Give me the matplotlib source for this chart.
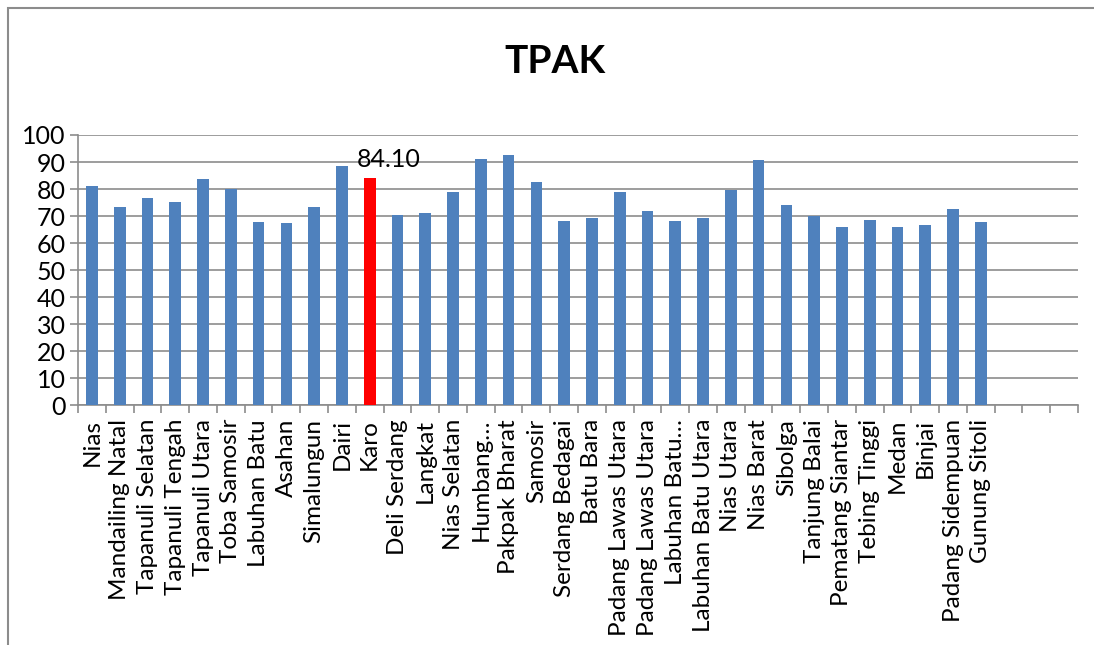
import matplotlib.pyplot as plt
import numpy as np
from matplotlib.patches import Rectangle

plt.rcParams['font.family'] = ['Lato', 'DejaVu Sans']

regions = [
    "Nias", "Mandailing Natal", "Tapanuli Selatan", "Tapanuli Tengah",
    "Tapanuli Utara", "Toba Samosir", "Labuhan Batu", "Asahan",
    "Simalungun", "Dairi", "Karo", "Deli Serdang", "Langkat",
    "Nias Selatan", "Humbang…", "Pakpak Bharat", "Samosir",
    "Serdang Bedagai", "Batu Bara", "Padang Lawas Utara",
    "Padang Lawas Utara", "Labuhan Batu…", "Labuhan Batu Utara",
    "Nias Utara", "Nias Barat", "Sibolga", "Tanjung Balai",
    "Pematang Siantar", "Tebing Tinggi", "Medan", "Binjai",
    "Padang Sidempuan", "Gunung Sitoli",
]
tpak = [
    81.2, 73.3, 76.5, 75.2, 83.6, 79.9, 67.7, 67.4, 73.2, 88.4, 84.10,
    70.2, 71.2, 79.0, 91.0, 92.6, 82.7, 68.1, 69.3, 78.8, 71.7, 68.3,
    69.4, 79.5, 90.6, 74.1, 70.0, 66.0, 68.5, 65.8, 66.7, 72.5, 67.9,
]
highlight = "Karo"
n_slots = 36  # chart range includes three empty categories at the end


def main():
    fig = plt.figure(figsize=(10.94, 6.45), dpi=100)
    ax = fig.add_axes([0.0713, 0.372, 0.9141, 0.4187])

    x = np.arange(len(regions))
    colors = ['#FF0000' if r == highlight else '#4F81BD' for r in regions]
    ax.bar(x, tpak, width=0.42, color=colors, zorder=3)

    k = regions.index(highlight)
    ax.annotate(f"{tpak[k]:.2f}", (x[k], tpak[k]), xytext=(14, 5),
                textcoords='offset points', ha='center', va='bottom',
                fontsize=18)

    ax.set_xlim(-0.5, n_slots - 0.5)
    ax.set_ylim(0, 100)
    ax.set_yticks(np.arange(0, 101, 10))
    ax.yaxis.grid(True, color='#8c8c8c', linewidth=1.2, zorder=0)
    ax.tick_params(axis='y', length=6, width=1.2, color='#8c8c8c',
                   labelsize=18, pad=3)

    ax.set_xticks(x)
    ax.set_xticklabels(regions, rotation=90, fontsize=17.5)
    ax.tick_params(axis='x', which='major', length=0, pad=10)
    ax.set_xticks(np.arange(-0.5, n_slots, 1), minor=True)
    ax.tick_params(axis='x', which='minor', length=6, width=1.2,
                   color='#8c8c8c')

    for side in ['top', 'right']:
        ax.spines[side].set_visible(False)
    for side in ['left', 'bottom']:
        ax.spines[side].set_color('#8c8c8c')
        ax.spines[side].set_linewidth(1.2)

    fig.text(0.507, 0.904, "TPAK", ha='center', va='center',
             fontsize=28, fontweight='bold')

    fig.patches.append(Rectangle((8 / 1094, -0.05), 1.2, 1.05 - 8 / 645,
                                 transform=fig.transFigure, fill=False,
                                 edgecolor='#8c8c8c', linewidth=1.5))

    fig.savefig("out.png", dpi=100)


if __name__ == "__main__":
    main()
